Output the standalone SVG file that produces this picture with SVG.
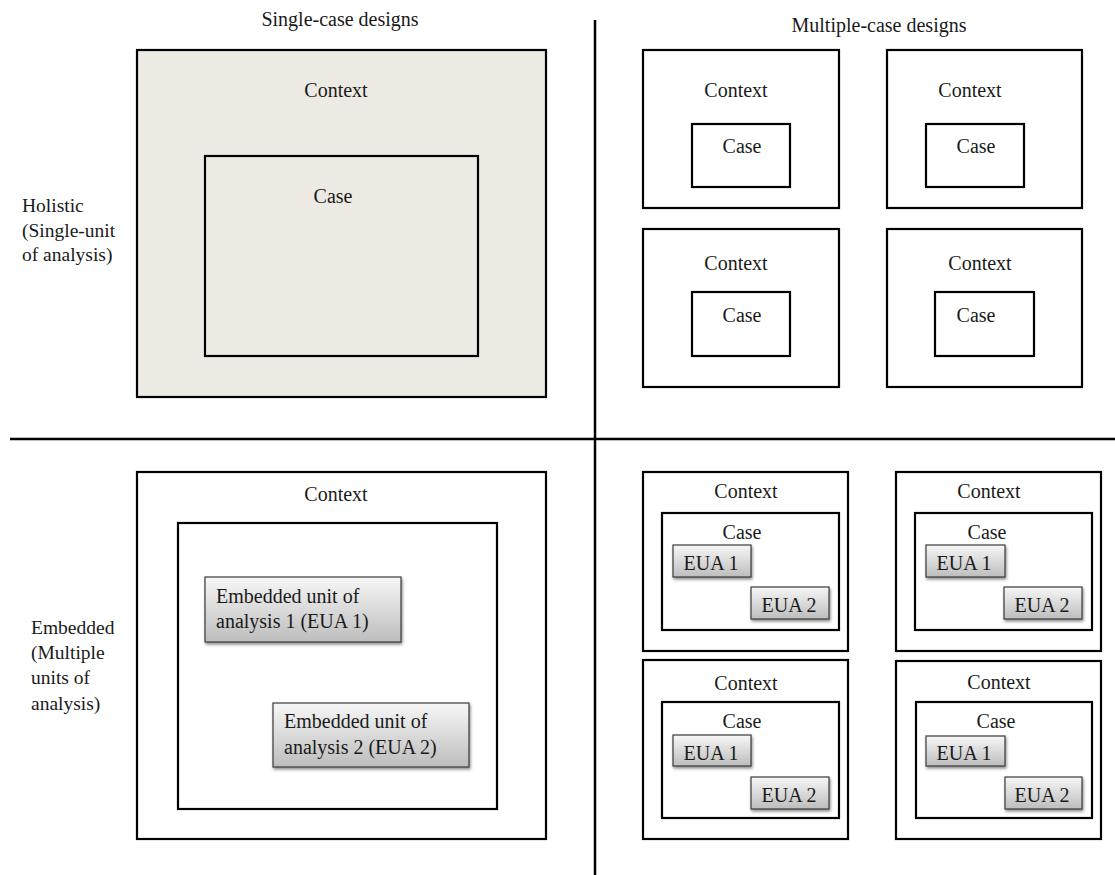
<svg xmlns="http://www.w3.org/2000/svg" width="1115" height="875" viewBox="0 0 1115 875">
  <defs>
    <linearGradient id="euaFill" x1="0" y1="0" x2="0" y2="1">
      <stop offset="0" stop-color="#f7f7f7"/>
      <stop offset="1" stop-color="#bdbdbd"/>
    </linearGradient>
    <filter id="shadow" x="-10%" y="-10%" width="130%" height="140%">
      <feGaussianBlur in="SourceAlpha" stdDeviation="1.5"/>
      <feOffset dx="1" dy="2" result="b"/>
      <feComponentTransfer><feFuncA type="linear" slope="0.45"/></feComponentTransfer>
      <feMerge><feMergeNode/><feMergeNode in="SourceGraphic"/></feMerge>
    </filter>
  </defs>
  <style>
    text { font-family: "Liberation Serif", "Times New Roman", serif; font-size: 20px; fill: #1a1a1a; }
    .lbl { font-size: 19.5px; }
    .c { text-anchor: middle; }
    .box { fill: #ffffff; stroke: #000000; stroke-width: 2.2; }
    .tan { fill: #ECEAE2; stroke: #000000; stroke-width: 2.2; }
    .eua { fill: url(#euaFill); stroke: #3a3a3a; stroke-width: 1.2; filter: url(#shadow); }
    .axis { stroke: #000000; stroke-width: 2.5; fill: none; }
  </style>
  <rect width="1115" height="875" fill="#ffffff"/>

  <g id="connectors">
    <line class="axis" x1="595" y1="20" x2="595" y2="875"/>
    <line class="axis" x1="10" y1="439" x2="1115" y2="439"/>
  </g>

  <g id="headers">
    <text class="c" x="340" y="26">Single-case designs</text>
    <text class="c" x="879" y="32">Multiple-case designs</text>
  </g>

  <g id="row-labels">
    <text class="lbl" x="22" y="212">Holistic</text>
    <text class="lbl" x="22" y="237">(Single-unit</text>
    <text class="lbl" x="22" y="261">of analysis)</text>
    <text class="lbl" x="31" y="634">Embedded</text>
    <text class="lbl" x="31" y="659">(Multiple</text>
    <text class="lbl" x="31" y="684">units of</text>
    <text class="lbl" x="31" y="710">analysis)</text>
  </g>

  <g id="single-holistic">
    <rect class="tan" x="137" y="50" width="409" height="347"/>
    <text class="c" x="336" y="97">Context</text>
    <rect class="tan" x="205" y="156" width="273" height="200"/>
    <text class="c" x="333" y="203">Case</text>
  </g>

  <g id="multi-holistic-1">
    <rect class="box" x="643" y="50" width="196" height="158"/>
    <text class="c" x="736" y="97">Context</text>
    <rect class="box" x="692" y="124" width="98" height="63"/>
    <text class="c" x="742" y="153">Case</text>
  </g>
  <g id="multi-holistic-2">
    <rect class="box" x="887" y="50" width="195" height="158"/>
    <text class="c" x="970" y="97">Context</text>
    <rect class="box" x="926" y="124" width="98" height="63"/>
    <text class="c" x="976" y="153">Case</text>
  </g>
  <g id="multi-holistic-3">
    <rect class="box" x="643" y="229" width="196" height="158"/>
    <text class="c" x="736" y="270">Context</text>
    <rect class="box" x="692" y="292" width="98" height="64"/>
    <text class="c" x="742" y="322">Case</text>
  </g>
  <g id="multi-holistic-4">
    <rect class="box" x="887" y="229" width="195" height="158"/>
    <text class="c" x="980" y="270">Context</text>
    <rect class="box" x="935" y="292" width="99" height="64"/>
    <text class="c" x="976" y="322">Case</text>
  </g>

  <g id="single-embedded">
    <rect class="box" x="137" y="472" width="409" height="367"/>
    <text class="c" x="336" y="501">Context</text>
    <rect class="box" x="178" y="523" width="319" height="286"/>
    <rect class="eua" x="205" y="577" width="196" height="65"/>
    <text x="216" y="603">Embedded unit of</text>
    <text x="216" y="628">analysis 1 (EUA 1)</text>
    <rect class="eua" x="273" y="703" width="196" height="64"/>
    <text x="284" y="728">Embedded unit of</text>
    <text x="284" y="754">analysis 2 (EUA 2)</text>
  </g>

  <g id="multi-embedded-1">
    <rect class="box" x="643" y="472" width="205" height="179"/>
    <text class="c" x="746" y="498">Context</text>
    <rect class="box" x="662" y="513" width="177" height="117"/>
    <text class="c" x="742" y="539">Case</text>
    <rect class="eua" x="673" y="545" width="78" height="32"/>
    <text class="c" x="711" y="570">EUA 1</text>
    <rect class="eua" x="751" y="587" width="78" height="32"/>
    <text class="c" x="789" y="612">EUA 2</text>
  </g>
  <g id="multi-embedded-2">
    <rect class="box" x="896" y="472" width="205" height="179"/>
    <text class="c" x="989" y="498">Context</text>
    <rect class="box" x="915" y="513" width="177" height="117"/>
    <text class="c" x="987" y="539">Case</text>
    <rect class="eua" x="926" y="545" width="79" height="32"/>
    <text class="c" x="964" y="570">EUA 1</text>
    <rect class="eua" x="1004" y="587" width="78" height="32"/>
    <text class="c" x="1042" y="612">EUA 2</text>
  </g>
  <g id="multi-embedded-3">
    <rect class="box" x="643" y="660" width="205" height="179"/>
    <text class="c" x="746" y="690">Context</text>
    <rect class="box" x="662" y="702" width="177" height="116"/>
    <text class="c" x="742" y="728">Case</text>
    <rect class="eua" x="673" y="735" width="78" height="31"/>
    <text class="c" x="711" y="760">EUA 1</text>
    <rect class="eua" x="751" y="777" width="78" height="32"/>
    <text class="c" x="789" y="802">EUA 2</text>
  </g>
  <g id="multi-embedded-4">
    <rect class="box" x="896" y="661" width="205" height="178"/>
    <text class="c" x="999" y="689">Context</text>
    <rect class="box" x="916" y="702" width="176" height="116"/>
    <text class="c" x="996" y="728">Case</text>
    <rect class="eua" x="926" y="736" width="79" height="30"/>
    <text class="c" x="964" y="760">EUA 1</text>
    <rect class="eua" x="1005" y="777" width="77" height="32"/>
    <text class="c" x="1042" y="802">EUA 2</text>
  </g>
</svg>
